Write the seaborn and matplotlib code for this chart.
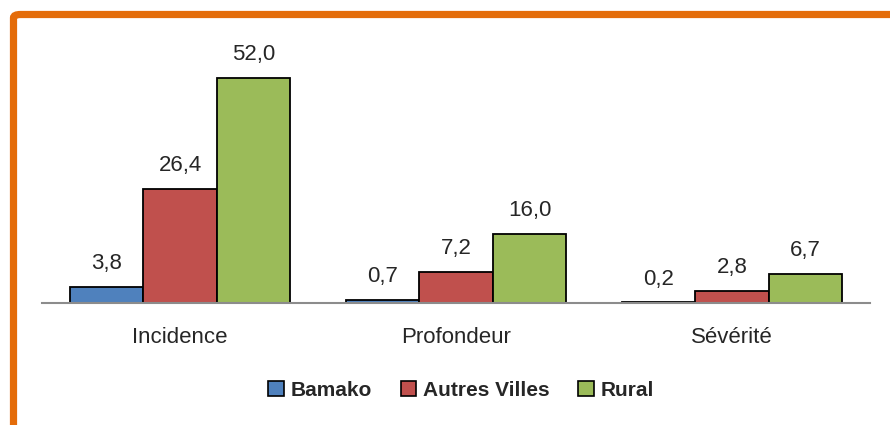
import pandas as pd
import matplotlib.pyplot as plt
import seaborn as sns
from matplotlib.patches import FancyBboxPatch, Patch

# data
categories = ["Incidence", "Profondeur", "Sévérité"]
bamako = [3.8, 0.7, 0.2]
autres_villes = [26.4, 7.2, 2.8]
rural = [52.0, 16.0, 6.7]
series_names = ["Bamako", "Autres Villes", "Rural"]
colors = ["#4F81BD", "#C0504D", "#9BBB59"]

df = pd.DataFrame({
    "cat": categories * 3,
    "zone": [s for s in series_names for _ in categories],
    "val": bamako + autres_villes + rural,
})

sns.set_style("white")
plt.rcParams['font.family'] = ['Liberation Sans', 'DejaVu Sans']

fig = plt.figure(figsize=(8.9, 4.25), dpi=100)
ax = fig.add_axes([42 / 890, 122 / 425, 828 / 890, 260 / 425])

sns.barplot(data=df, x="cat", y="val", hue="zone", order=categories,
            hue_order=series_names, palette=colors, width=0.8,
            edgecolor="black", linewidth=1.3, saturation=1, ax=ax, legend=False)

for cont in ax.containers:
    labels = [f"{b.get_height():.1f}".replace(".", ",") for b in cont]
    ax.bar_label(cont, labels=labels, padding=9, fontsize=16)

ax.set_xlim(-0.5, 2.5)
ax.set_ylim(0, 60)
ax.set_xlabel("")
ax.set_ylabel("")
ax.set_yticks([])
ax.tick_params(axis="x", length=0, pad=17, labelsize=16)
for s in ["top", "left", "right"]:
    ax.spines[s].set_visible(False)
ax.spines["bottom"].set_color("#8c8c8c")
ax.spines["bottom"].set_linewidth(1.5)

handles = [Patch(facecolor=c, edgecolor="black", linewidth=1.2) for c in colors]
fig.legend(handles, series_names, loc="center", bbox_to_anchor=(461 / 890, 1 - 390 / 425),
           ncol=3, frameon=False, prop={"size": 15, "weight": "bold"},
           handlelength=0.75, handleheight=0.75, handletextpad=0.3, columnspacing=1.4)

# orange frame (top and left edges visible)
frame = FancyBboxPatch((13.5 / 890, -0.1), 1.2, 1 - 14.5 / 425 + 0.1,
                       boxstyle="round,pad=0,rounding_size=0.008",
                       transform=fig.transFigure, facecolor="none",
                       edgecolor="#E46C0A", linewidth=5.2, clip_on=False)
fig.patches.append(frame)

fig.savefig("out.png", dpi=100)
